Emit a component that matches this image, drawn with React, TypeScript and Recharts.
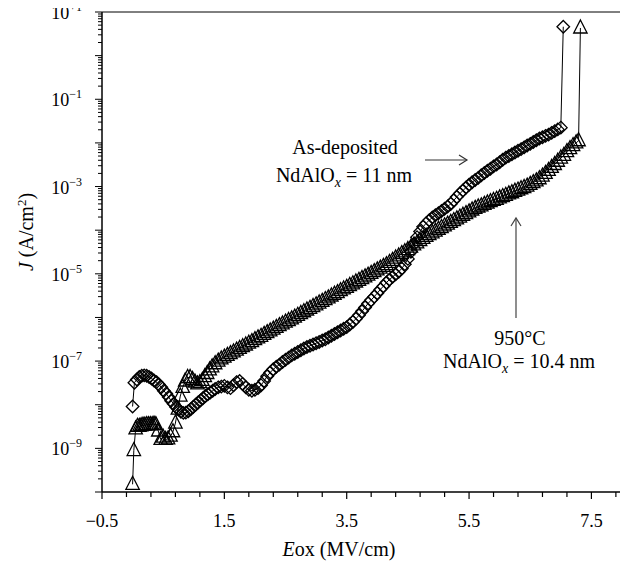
import { ScatterChart, Scatter, XAxis, YAxis, ReferenceLine } from "recharts";

// As-deposited NdAlOx (11 nm), diamonds
const eoxAsDep = [
  0.0, 0.03, 0.07, 0.11, 0.15, 0.19, 0.23, 0.27, 0.31, 0.35, 0.39, 0.43, 0.47, 0.51, 0.55, 0.59,
  0.63, 0.67, 0.71, 0.75, 0.79, 0.83, 0.87, 0.91, 0.95, 0.99, 1.03, 1.07, 1.11, 1.15, 1.19, 1.23,
  1.27, 1.31, 1.35, 1.4, 1.45, 1.5, 1.55, 1.6, 1.65, 1.7, 1.75, 1.8, 1.85, 1.9, 1.95, 2.0,
  2.05, 2.1, 2.15, 2.2, 2.25, 2.3, 2.35, 2.4, 2.45, 2.5, 2.55, 2.6, 2.65, 2.7, 2.75, 2.8,
  2.85, 2.9, 2.95, 3.0, 3.05, 3.1, 3.15, 3.2, 3.25, 3.3, 3.35, 3.4, 3.45, 3.5, 3.55, 3.6,
  3.65, 3.7, 3.75, 3.8, 3.85, 3.9, 3.95, 4.0, 4.05, 4.1, 4.15, 4.2, 4.25, 4.3, 4.35, 4.4,
  4.45, 4.5, 4.55, 4.6, 4.65, 4.7, 4.75, 4.8, 4.85, 4.9, 4.95, 5.0, 5.05, 5.1, 5.15, 5.2,
  5.25, 5.3, 5.35, 5.4, 5.45, 5.5, 5.55, 5.6, 5.65, 5.7, 5.75, 5.8, 5.85, 5.9, 5.95, 6.0,
  6.05, 6.1, 6.15, 6.2, 6.25, 6.3, 6.35, 6.4, 6.45, 6.5, 6.55, 6.6, 6.65, 6.7, 6.75, 6.8,
  6.85, 6.9, 6.95, 7.0, 7.04,
];
const jAsDep = [
  9.1e-9, 3.2e-8, 3.8e-8, 4.3e-8, 4.6e-8, 4.7e-8, 4.6e-8, 4.3e-8, 4.0e-8, 3.6e-8, 3.3e-8, 2.9e-8, 2.5e-8, 2.1e-8, 1.8e-8, 1.5e-8,
  1.23e-8, 1.05e-8, 8.9e-9, 7.8e-9, 6.9e-9, 6.5e-9, 6.6e-9, 7.1e-9, 7.9e-9, 8.9e-9, 1.0e-8, 1.12e-8, 1.26e-8, 1.41e-8, 1.58e-8, 1.74e-8,
  1.9e-8, 2.1e-8, 2.3e-8, 2.5e-8, 2.6e-8, 2.7e-8, 2.5e-8, 2.4e-8, 2.8e-8, 3.3e-8, 3.5e-8, 3.0e-8, 2.5e-8, 2.2e-8, 2.1e-8, 2.2e-8,
  2.4e-8, 2.8e-8, 3.5e-8, 4.5e-8, 5.5e-8, 6.5e-8, 7.4e-8, 8.3e-8, 9.5e-8, 1.07e-7, 1.2e-7, 1.35e-7, 1.48e-7, 1.62e-7, 1.78e-7, 1.95e-7,
  2.1e-7, 2.24e-7, 2.4e-7, 2.57e-7, 2.75e-7, 2.95e-7, 3.16e-7, 3.47e-7, 3.8e-7, 4.17e-7, 4.57e-7, 5.0e-7, 5.5e-7, 6.0e-7, 6.9e-7, 7.9e-7,
  9.3e-7, 1.12e-6, 1.38e-6, 1.7e-6, 2.1e-6, 2.5e-6, 3.0e-6, 3.6e-6, 4.4e-6, 5.2e-6, 6.3e-6, 7.4e-6, 8.5e-6, 9.8e-6, 1.12e-5, 1.32e-5,
  1.66e-5, 2.2e-5, 3.2e-5, 4.8e-5, 6.9e-5, 9.3e-5, 1.2e-4, 1.45e-4, 1.7e-4, 1.95e-4, 2.2e-4, 2.45e-4, 2.75e-4, 3.1e-4, 3.5e-4, 4.0e-4,
  4.8e-4, 5.8e-4, 6.9e-4, 8.1e-4, 9.5e-4, 1.1e-3, 1.26e-3, 1.41e-3, 1.58e-3, 1.82e-3, 2.04e-3, 2.3e-3, 2.57e-3, 2.9e-3, 3.2e-3, 3.6e-3,
  4.1e-3, 4.6e-3, 5.0e-3, 5.5e-3, 6.0e-3, 6.6e-3, 7.2e-3, 7.9e-3, 8.7e-3, 9.5e-3, 1.05e-2, 1.15e-2, 1.26e-2, 1.35e-2, 1.45e-2, 1.55e-2,
  1.7e-2, 1.86e-2, 2.04e-2, 2.24e-2, 4.6,
];

// Annealed 950°C NdAlOx (10.4 nm), triangles
const eoxAnneal = [
  0.0, 0.02, 0.05, 0.08, 0.11, 0.14, 0.17, 0.2, 0.23, 0.26, 0.29, 0.32, 0.35, 0.38, 0.42, 0.46,
  0.5, 0.54, 0.58, 0.62, 0.66, 0.7, 0.74, 0.78, 0.82, 0.86, 0.9, 0.94, 0.98, 1.02, 1.06, 1.1,
  1.14, 1.18, 1.22, 1.26, 1.3, 1.35, 1.4, 1.45, 1.5, 1.55, 1.6, 1.65, 1.7, 1.75, 1.8, 1.85,
  1.9, 1.95, 2.0, 2.05, 2.1, 2.15, 2.2, 2.25, 2.3, 2.35, 2.4, 2.45, 2.5, 2.55, 2.6, 2.65,
  2.7, 2.75, 2.8, 2.85, 2.9, 2.95, 3.0, 3.05, 3.1, 3.15, 3.2, 3.25, 3.3, 3.35, 3.4, 3.45,
  3.5, 3.55, 3.6, 3.65, 3.7, 3.75, 3.8, 3.85, 3.9, 3.95, 4.0, 4.05, 4.1, 4.15, 4.2, 4.25,
  4.3, 4.35, 4.4, 4.45, 4.5, 4.55, 4.6, 4.65, 4.7, 4.75, 4.8, 4.85, 4.9, 4.95, 5.0, 5.05,
  5.1, 5.15, 5.2, 5.25, 5.3, 5.35, 5.4, 5.45, 5.5, 5.55, 5.6, 5.65, 5.7, 5.75, 5.8, 5.85,
  5.9, 5.95, 6.0, 6.05, 6.1, 6.15, 6.2, 6.25, 6.3, 6.35, 6.4, 6.45, 6.5, 6.55, 6.6, 6.65,
  6.7, 6.75, 6.8, 6.85, 6.9, 6.95, 7.0, 7.05, 7.1, 7.15, 7.2, 7.25, 7.29, 7.32,
];
const jAnneal = [
  1.5e-10, 8.9e-10, 2.8e-9, 3.2e-9, 3.2e-9, 3.3e-9, 3.4e-9, 3.4e-9, 3.5e-9, 3.5e-9, 3.5e-9, 3.5e-9, 3.6e-9, 3.5e-9, 2.5e-9, 1.6e-9,
  1.8e-9, 1.6e-9, 1.65e-9, 1.9e-9, 2.4e-9, 3.8e-9, 7.9e-9, 1.58e-8, 2.5e-8, 3.5e-8, 4.2e-8, 4.2e-8, 3.8e-8, 3.3e-8, 3.0e-8, 3.2e-8,
  3.6e-8, 4.4e-8, 5.2e-8, 6.3e-8, 7.4e-8, 8.7e-8, 1.0e-7, 1.12e-7, 1.23e-7, 1.35e-7, 1.48e-7, 1.62e-7, 1.78e-7, 1.95e-7, 2.14e-7, 2.34e-7,
  2.57e-7, 2.8e-7, 3.1e-7, 3.4e-7, 3.7e-7, 4.1e-7, 4.5e-7, 4.9e-7, 5.4e-7, 5.9e-7, 6.5e-7, 7.1e-7, 7.8e-7, 8.5e-7, 9.3e-7, 1.02e-6,
  1.12e-6, 1.23e-6, 1.35e-6, 1.48e-6, 1.62e-6, 1.78e-6, 1.95e-6, 2.14e-6, 2.34e-6, 2.57e-6, 2.8e-6, 3.1e-6, 3.4e-6, 3.7e-6, 4.1e-6, 4.5e-6,
  4.9e-6, 5.4e-6, 5.9e-6, 6.5e-6, 7.1e-6, 7.8e-6, 8.5e-6, 9.3e-6, 1.02e-5, 1.12e-5, 1.23e-5, 1.35e-5, 1.48e-5, 1.62e-5, 1.82e-5, 2.04e-5,
  2.3e-5, 2.57e-5, 2.9e-5, 3.2e-5, 3.6e-5, 4.1e-5, 4.6e-5, 5.1e-5, 5.8e-5, 6.5e-5, 7.2e-5, 7.9e-5, 8.7e-5, 9.5e-5, 1.05e-4, 1.15e-4,
  1.26e-4, 1.38e-4, 1.51e-4, 1.66e-4, 1.82e-4, 2.0e-4, 2.2e-4, 2.4e-4, 2.63e-4, 2.9e-4, 3.16e-4, 3.4e-4, 3.6e-4, 3.9e-4, 4.2e-4, 4.5e-4,
  4.8e-4, 5.1e-4, 5.5e-4, 5.9e-4, 6.3e-4, 6.8e-4, 7.2e-4, 7.8e-4, 8.3e-4, 8.9e-4, 9.5e-4, 1.02e-3, 1.12e-3, 1.23e-3, 1.35e-3, 1.51e-3,
  1.74e-3, 2.0e-3, 2.34e-3, 2.75e-3, 3.2e-3, 3.8e-3, 4.5e-3, 5.2e-3, 6.3e-3, 7.4e-3, 8.7e-3, 1.0e-2, 1.12e-2, 4.3,
];

// axis ticks
const xTicks = [
  -0.5, -0.1, 0.3, 0.7, 1.1, 1.5, 1.9, 2.3, 2.7, 3.1, 3.5, 3.9, 4.3, 4.7, 5.1, 5.5, 5.9, 6.3, 6.7, 7.1,
  7.5, 7.9,
];
const xLabels = ["−0.5", "1.5", "3.5", "5.5", "7.5"];
const xLabelTicks = [-0.5, 1.5, 3.5, 5.5, 7.5];
const yDecades = [1e-10, 1e-9, 1e-8, 1e-7, 1e-6, 1e-5, 1e-4, 1e-3, 1e-2, 1e-1, 1];
const yLabelTicks = [10, 1e-1, 1e-3, 1e-5, 1e-7, 1e-9];
const yLabelExps = ["+1", "−1", "−3", "−5", "−7", "−9"];

// svg covers the whole page (wrapper pulled over the body margin)
const W = 628;
const H = 567;
const AXIS_X = 102;
const AXIS_Y = 492;
const FONT = '"Liberation Serif", "Times New Roman", Times, serif';

const yTicks = [...yDecades.flatMap((d) => [1, 2, 3, 4, 5, 6, 7, 8, 9].map((k) => k * d)), 10];

const asDepData = eoxAsDep.map((x, i) => ({ x, y: jAsDep[i] }));
const annealData = eoxAnneal.map((x, i) => ({ x, y: jAnneal[i] }));

const near = (a: number, b: number) => Math.abs(a - b) <= Math.abs(b) * 1e-6;

function Diamond(props: any) {
  const { cx, cy } = props;
  const s = 6.3;
  return (
    <polygon
      points={`${cx},${cy - s} ${cx + s},${cy} ${cx},${cy + s} ${cx - s},${cy}`}
      fill="none"
      stroke="#000"
      strokeWidth={1.3}
    />
  );
}

function Triangle(props: any) {
  const { cx, cy } = props;
  return (
    <polygon
      points={`${cx},${cy - 8} ${cx + 6.7},${cy + 5} ${cx - 6.7},${cy + 5}`}
      fill="none"
      stroke="#000"
      strokeWidth={1.3}
    />
  );
}

function XTick(props: any) {
  const { x, payload } = props;
  const idx = xLabelTicks.findIndex((t) => Math.abs(t - payload.value) < 1e-6);
  return (
    <g>
      <line x1={x} x2={x} y1={AXIS_Y} y2={AXIS_Y + (idx >= 0 ? 7 : 5)} stroke="#000" strokeWidth={1.2} />
      {idx >= 0 && (
        <text x={x} y={AXIS_Y + 35} textAnchor="middle" style={{ fontFamily: FONT, fontSize: 18 }} fill="#000">
          {xLabels[idx]}
        </text>
      )}
    </g>
  );
}

function YTick(props: any) {
  const { y, payload } = props;
  const v = payload.value;
  const isDecade = yDecades.some((d) => near(v, d)) || near(v, 10);
  const idx = yLabelTicks.findIndex((t) => near(v, t));
  return (
    <g>
      <line x1={AXIS_X - (isDecade ? 7 : 4)} x2={AXIS_X} y1={y} y2={y} stroke="#000" strokeWidth={1} />
      {idx >= 0 && (
        <text x={AXIS_X - 20} y={y + 7} textAnchor="end" style={{ fontFamily: FONT, fontSize: 18 }} fill="#000">
          10
          <tspan dy={-8} style={{ fontSize: 12 }}>
            {yLabelExps[idx]}
          </tspan>
        </text>
      )}
    </g>
  );
}

export default function App() {
  return (
    <div style={{ position: "relative", width: W, height: H, margin: "-8px 0 0 -8px" }}>
      <ScatterChart width={W} height={H} margin={{ top: 12, right: 6, bottom: 0, left: 0 }}>
        <XAxis
          type="number"
          dataKey="x"
          domain={[-0.5, 8]}
          ticks={xTicks}
          allowDataOverflow
          height={75}
          tickLine={false}
          tickSize={0}
          tick={<XTick />}
          interval={0}
          axisLine={{ stroke: "#000", strokeWidth: 1.5 }}
        />
        <YAxis
          type="number"
          dataKey="y"
          scale="log"
          domain={[1e-10, 10]}
          ticks={yTicks}
          allowDataOverflow
          width={102}
          tickLine={false}
          tickSize={0}
          tick={<YTick />}
          interval={0}
          axisLine={{ stroke: "#000", strokeWidth: 1.5 }}
        />
        <ReferenceLine y={10} stroke="#000" strokeWidth={1} />
        <ReferenceLine x={8} stroke="#000" strokeWidth={1} />
        <Scatter
          name="As-deposited"
          data={asDepData}
          line={{ stroke: "#000", strokeWidth: 1 }}
          lineJointType="linear"
          shape={Diamond}
          isAnimationActive={false}
        />
        <Scatter
          name="950°C"
          data={annealData}
          line={{ stroke: "#000", strokeWidth: 1 }}
          lineJointType="linear"
          shape={Triangle}
          isAnimationActive={false}
        />
      </ScatterChart>
      <svg
        width={W}
        height={H}
        style={{ position: "absolute", left: 0, top: 0, pointerEvents: "none", fontFamily: FONT }}
      >
        <text x={33} y={232} fontSize={20} textAnchor="middle" transform="rotate(-90 33 232)">
          <tspan fontStyle="italic">J</tspan> (A/cm
          <tspan dy={-7} fontSize={13}>2</tspan>
          <tspan dy={7}>)</tspan>
        </text>
        <text x={339} y={556} fontSize={20} textAnchor="middle">
          <tspan fontStyle="italic">E</tspan>ox (MV/cm)
        </text>
        <text x={345} y={154} fontSize={20} textAnchor="middle">
          As-deposited
        </text>
        <text x={344} y={182} fontSize={20} textAnchor="middle">
          NdAlO
          <tspan dy={5} fontSize={14} fontStyle="italic">x</tspan>
          <tspan dy={-5}> = 11 nm</tspan>
        </text>
        <line x1={425} y1={160} x2={467} y2={160} stroke="#333" strokeWidth={1.2} />
        <polyline points="459,155 467,160 459,165" fill="none" stroke="#333" strokeWidth={1.2} />
        <text x={520} y={345} fontSize={20} textAnchor="middle">
          950°C
        </text>
        <text x={519} y={368} fontSize={20} textAnchor="middle">
          NdAlO
          <tspan dy={5} fontSize={14} fontStyle="italic">x</tspan>
          <tspan dy={-5}> = 10.4 nm</tspan>
        </text>
        <line x1={516} y1={318} x2={516} y2={218} stroke="#444" strokeWidth={1.2} />
        <polyline points="511,226 516,218 521,226" fill="none" stroke="#444" strokeWidth={1.2} />
      </svg>
    </div>
  );
}
